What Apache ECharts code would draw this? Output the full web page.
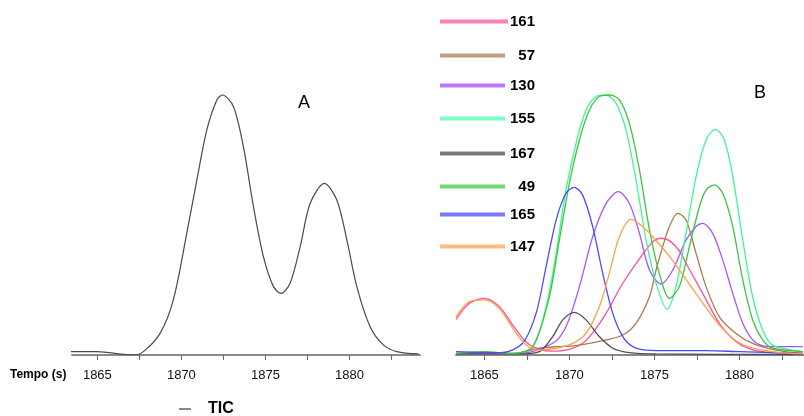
<!DOCTYPE html>
<html><head><meta charset="utf-8">
<script src="https://cdn.jsdelivr.net/npm/echarts@6/dist/echarts.min.js"></script>
<style>html,body{margin:0;padding:0;background:#fff}#c{width:804px;height:416px}</style>
</head><body><div id="c"></div>
<script>
// ---- data ----
const tickLabels = [1865, 1870, 1875, 1880];
const tickMarks = [1865, 1867.5, 1870, 1872.5, 1875, 1877.5, 1880, 1882.5];

const tic = [[1863.37,1.3],[1864.96,1.3],[1867.14,0],[1867.74,1.3],[1868.73,8.3],[1869.52,21.2],[1870.32,46.8],[1870.92,67.3],[1871.51,86.5],[1872.11,98.1],[1872.44,100],[1873.10,95.5],[1873.69,80.1],[1874.29,57.0],[1874.88,37.8],[1875.48,26.3],[1875.93,23.7],[1876.47,27.6],[1877.07,41.7],[1877.66,58.3],[1878.51,66.0],[1879.25,59.6],[1879.85,44.2],[1880.44,26.3],[1881.23,10.9],[1882.02,3.9],[1882.82,1.3],[1884.11,0.4]];

const s161 = [[1863.33,13.7],[1864.12,19.9],[1865,21.8],[1865.88,18.6],[1866.67,11.5],[1867.45,5.0],[1868.24,2.2],[1869.0,1.5],[1870.0,2.2],[1870.78,4.5],[1871.37,8.5],[1872.16,16.0],[1873.14,27.6],[1874.12,37.0],[1874.9,43.5],[1875.39,44.9],[1875.88,44.0],[1876.47,40.0],[1876.86,35.3],[1877.84,23.7],[1878.82,12.2],[1879.8,5.2],[1880.78,2.0],[1881.96,0.9],[1883.73,0.4]];
const s57 = [[1863.33,0.4],[1866.5,0.4],[1868.24,2.6],[1869.22,3.2],[1870.2,3.5],[1871.18,4.5],[1872.16,5.8],[1873.14,7.7],[1873.92,12.2],[1874.71,22.4],[1875.1,32.7],[1875.49,41.7],[1875.88,49.4],[1876.37,54.5],[1876.86,51.9],[1877.45,39.1],[1878.04,26.3],[1878.82,14.7],[1879.8,8.3],[1880.78,4.5],[1882.16,1.9],[1883.73,0.6]];
const s130 = [[1863.33,0.6],[1867.0,0.6],[1869.02,4.5],[1869.8,10.9],[1870.59,26.3],[1871.37,45.5],[1872.16,58.3],[1872.88,62.8],[1873.53,58.3],[1874.12,46.8],[1874.71,32.7],[1875.39,27.3],[1876.08,32.7],[1876.86,44.2],[1877.45,49.4],[1877.84,50.6],[1878.43,46.8],[1879.02,36.5],[1879.61,23.7],[1880.2,12.2],[1880.78,5.8],[1881.37,3.5],[1881.96,3.2],[1883.73,3.2]];
const s155 = [[1863.33,0.6],[1865,1.0],[1866.67,0.6],[1867.84,3.2],[1868.63,18.6],[1869.22,39.1],[1869.8,63.5],[1870.39,81.4],[1870.98,94.2],[1871.57,99.4],[1872.16,100],[1872.75,96.8],[1873.33,86.5],[1873.92,67.3],[1874.51,44.2],[1875.1,27.6],[1875.75,17.6],[1876.27,26.3],[1876.86,46.8],[1877.45,68.6],[1878.04,82.7],[1878.59,86.8],[1879.12,82.7],[1879.61,68.6],[1880.2,44.2],[1880.78,22.4],[1881.37,9.6],[1881.96,3.8],[1883.73,1.3]];
const s167 = [[1863.33,0.4],[1867.0,0.4],[1868.24,1.3],[1869.02,7.1],[1869.61,13.5],[1870.29,16.4],[1870.98,13.5],[1871.76,7.1],[1872.55,2.6],[1873.53,0.9],[1875.1,0.4],[1883.73,0.2]];
const s49 = [[1863.33,0.6],[1865,1.3],[1866.67,0.6],[1867.84,3.2],[1868.82,22.4],[1869.41,44.2],[1870.0,66.0],[1870.59,82.7],[1871.18,94.2],[1871.76,99.4],[1872.39,100],[1872.94,98.1],[1873.53,89.1],[1874.12,71.2],[1874.71,48.1],[1875.29,31.4],[1875.88,21.8],[1876.47,26.3],[1877.06,41.7],[1877.65,57.1],[1878.04,63.5],[1878.53,65.4],[1879.02,62.2],[1879.61,49.4],[1880.2,28.8],[1880.78,13.5],[1881.37,5.8],[1881.96,2.6],[1883.73,1.3]];
const s165 = [[1863.33,1.3],[1866.0,0.9],[1867.25,4.5],[1868.04,16.0],[1868.63,34.0],[1869.22,51.9],[1869.8,62.2],[1870.29,64.5],[1870.78,61.5],[1871.37,49.4],[1871.96,31.4],[1872.55,16.0],[1873.14,7.1],[1873.73,3.2],[1874.51,1.9],[1876.08,1.7],[1878.04,1.7],[1880.0,1.3],[1881.96,0.9],[1883.73,0.6]];
const s147 = [[1863.33,14.7],[1864.12,20.5],[1865,21.2],[1865.88,17.9],[1866.67,10.3],[1867.45,3.8],[1868.24,1.9],[1869.22,2.6],[1870.2,4.5],[1870.98,8.3],[1871.76,18.6],[1872.35,31.4],[1872.94,45.5],[1873.63,52.2],[1874.31,49.4],[1874.9,45.5],[1875.88,38],[1876.86,29],[1877.84,20],[1878.82,11.5],[1879.8,5.5],[1880.78,2.6],[1882.3,1.0],[1883.73,0.4]];

const names = ['161','57','130','155','167','49','165','147'];
const seriesData = [s161, s57, s130, s155, s167, s49, s165, s147];

// ---- styles ----
const lineColors = ['#ff4f9e','#a87a4e','#a855ff','#3ff59a','#505050','#3ec43e','#4a4aff','#ffa04a'];
const legendColors = ['#ff7fb8','#c29c7c','#bb77ff','#7dffc0','#7a7a7a','#70d870','#7777ff','#ffbb80'];
const legendY = [18, 52, 82, 115, 150, 183, 211, 243];
const FONT = '"Liberation Sans", Arial, sans-serif';

const chart = echarts.init(document.getElementById('c'), null, {renderer:'canvas'});

function xAxisCfg(gi, min, max){
  return {
    type:'value', gridIndex: gi, min: min, max: max,
    axisLine:{show:true, lineStyle:{color:'#8a8a8a', width:2}},
    axisTick:{show:true, customValues: tickMarks, length:5, lineStyle:{color:'#666', width:1}},
    axisLabel:{customValues: tickLabels, margin:14, fontSize:13, color:'#111', fontFamily: FONT,
      formatter: v => String(Math.round(v))},
    splitLine:{show:false}
  };
}
function yAxisCfg(gi){
  return {type:'value', gridIndex:gi, min:0, max:110, show:false};
}

const SM = 0.3;
const series = [{
  name:'TIC', type:'line', xAxisIndex:0, yAxisIndex:0, data: tic,
  smooth:SM, showSymbol:false, symbol:'none',
  lineStyle:{color:'#4a4a4a', width:1.2}, itemStyle:{color:'#888'}
}];
names.forEach((n,i)=>{
  series.push({
    name:n, type:'line', xAxisIndex:1, yAxisIndex:1, data: seriesData[i],
    smooth:SM, showSymbol:false, symbol:'none',
    lineStyle:{color: lineColors[i], width:1.3}, itemStyle:{color: lineColors[i]}
  });
});

const legends = [{
  left:174, top:396, itemWidth:12, itemHeight:2, icon:'rect', selectedMode:false,
  data:[{name:'TIC', itemStyle:{color:'#888'}}],
  textStyle:{fontFamily:FONT, fontWeight:'bold', fontSize:16, color:'#000', padding:[0,0,0,12]}
}];
names.forEach((n,i)=>{
  legends.push({
    left:435, top: legendY[i]-9, itemWidth: i===0?68:65, itemHeight:4, icon:'rect',
    itemGap:4, selectedMode:false,
    data:[{name:n, itemStyle:{color: legendColors[i]}}],
    formatter: name => '{t|' + name + '}',
    textStyle:{rich:{t:{fontFamily:FONT, fontWeight:'bold', fontSize:15, color:'#000', width:i===0?22:25, align:'right', lineHeight:18}}}
  });
});

chart.setOption({
  animation:false,
  grid:[
    {left:72, width:348, top:69, height:286},
    {left:456, width:348, top:69, height:286}
  ],
  xAxis:[xAxisCfg(0, 1863.49, 1884.2), xAxisCfg(1, 1863.33, 1883.8)],
  yAxis:[yAxisCfg(0), yAxisCfg(1)],
  legend: legends,
  graphic:[
    {type:'text', left:10, top:369, style:{text:'Tempo (s)', font:'bold 12px "Liberation Sans", Arial', fill:'#000'}},
    {type:'text', left:298, top:94, style:{text:'A', font:'18px "Liberation Sans", Arial', fill:'#000'}},
    {type:'text', left:754, top:84, style:{text:'B', font:'18px "Liberation Sans", Arial', fill:'#000'}}
  ],
  series: series
});
</script></body></html>
